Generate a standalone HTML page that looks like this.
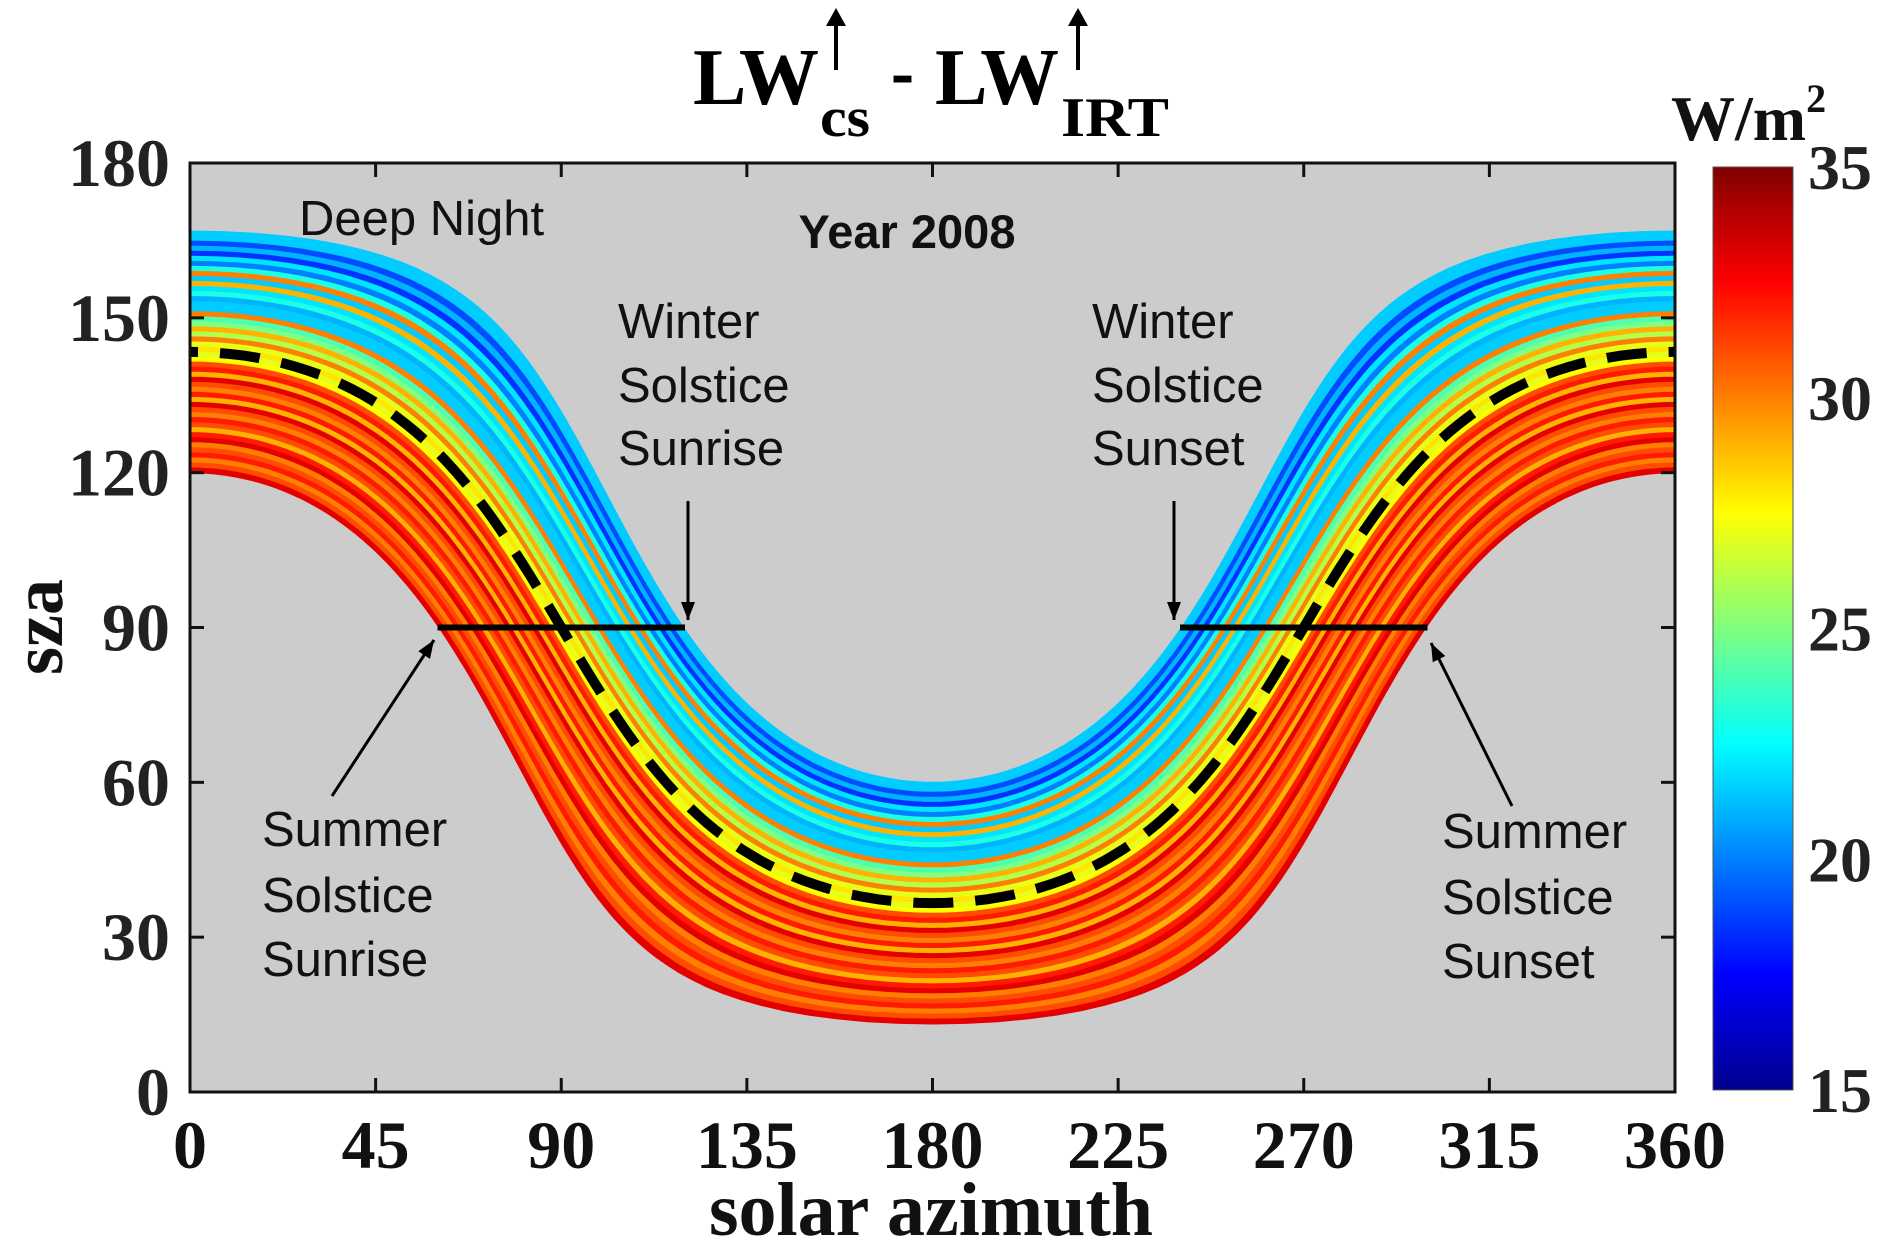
<!DOCTYPE html>
<html><head><meta charset="utf-8">
<style>
html,body{margin:0;padding:0;background:#fff;}
#wrap{position:relative;width:1892px;height:1259px;overflow:hidden;}
svg{position:absolute;left:0;top:0;}
</style></head>
<body>
<div id="wrap">
<svg id="chart" width="1892" height="1259" viewBox="0 0 1892 1259" xmlns="http://www.w3.org/2000/svg">
  <defs>
    <linearGradient id="jet" x1="0" y1="1" x2="0" y2="0">
      <stop offset="0" stop-color="#00008f"/>
      <stop offset="0.125" stop-color="#0000ff"/>
      <stop offset="0.375" stop-color="#00ffff"/>
      <stop offset="0.625" stop-color="#ffff00"/>
      <stop offset="0.875" stop-color="#ff0000"/>
      <stop offset="1" stop-color="#800000"/>
    </linearGradient>
    <clipPath id="pclip"><rect x="190" y="163" width="1485" height="929"/></clipPath>
  </defs>
  <rect x="190" y="163" width="1485" height="929" fill="#cccccc"/>
  <g id="field" clip-path="url(#pclip)"></g>
  <g id="ticks"></g>
  <rect x="190" y="163" width="1485" height="929" fill="none" stroke="#111" stroke-width="3"/>

  <!-- title -->
  <g font-family="Liberation Serif, serif" font-weight="bold" fill="#000">
    <text x="693" y="104" font-size="80" textLength="126" lengthAdjust="spacingAndGlyphs">LW</text>
    <text x="820" y="136" font-size="56" textLength="50" lengthAdjust="spacingAndGlyphs">cs</text>
    <text x="891" y="98" font-size="80" textLength="23" lengthAdjust="spacingAndGlyphs">-</text>
    <text x="935" y="104" font-size="80" textLength="124" lengthAdjust="spacingAndGlyphs">LW</text>
    <text x="1061" y="136" font-size="56" textLength="108" lengthAdjust="spacingAndGlyphs">IRT</text>
  </g>
  <g stroke="#000" fill="#000">
    <line x1="836" y1="20" x2="836" y2="70" stroke-width="4"/>
    <polygon points="836,8 826,26 846,26" stroke="none"/>
    <line x1="1078" y1="20" x2="1078" y2="70" stroke-width="4"/>
    <polygon points="1078,8 1068,26 1088,26" stroke="none"/>
  </g>

  <text x="907" y="248" text-anchor="middle" font-family="Liberation Sans, sans-serif" font-weight="bold" font-size="47" fill="#111">Year 2008</text>

  <g font-family="Liberation Sans, sans-serif" font-size="49" fill="#111">
    <text x="299" y="235">Deep Night</text>
    <text x="618" y="338"><tspan x="618">Winter</tspan><tspan x="618" dy="64">Solstice</tspan><tspan x="618" dy="63">Sunrise</tspan></text>
    <text x="1092" y="338"><tspan x="1092">Winter</tspan><tspan x="1092" dy="64">Solstice</tspan><tspan x="1092" dy="63">Sunset</tspan></text>
    <text x="262" y="846"><tspan x="262">Summer</tspan><tspan x="262" dy="66">Solstice</tspan><tspan x="262" dy="64">Sunrise</tspan></text>
    <text x="1442" y="848"><tspan x="1442">Summer</tspan><tspan x="1442" dy="66">Solstice</tspan><tspan x="1442" dy="64">Sunset</tspan></text>
  </g>
  <g id="arrows" stroke="#000" fill="#000"></g>

  <!-- axis labels -->
  <g id="ylabels" font-family="Liberation Serif, serif" font-weight="bold" font-size="68" fill="#222" text-anchor="end"></g>
  <g id="xlabels" font-family="Liberation Serif, serif" font-weight="bold" font-size="68" fill="#111" text-anchor="middle"></g>
  <text x="931" y="1235" text-anchor="middle" font-family="Liberation Serif, serif" font-weight="bold" font-size="76" fill="#111">solar azimuth</text>
  <text transform="translate(62,627) rotate(-90)" text-anchor="middle" font-family="Liberation Serif, serif" font-weight="bold" font-size="72" fill="#111">sza</text>

  <!-- colorbar -->
  <rect x="1713" y="167" width="80" height="923" fill="url(#jet)" stroke="#555" stroke-width="1"/>
  <g id="cblabels" font-family="Liberation Serif, serif" font-weight="bold" font-size="64" fill="#222"></g>
  <text x="1671" y="140" font-family="Liberation Serif, serif" font-weight="bold" font-size="64" fill="#111">W/m<tspan font-size="40" dy="-28">2</tspan></text>
</svg>
</div>
<script>
// ---- data ----
const latitude = 36.6;
const declinationMin = -23.44, declinationMax = 23.44;
// per-declination-band LW difference (W/m2), from winter solstice (top) to summer solstice (bottom)
const bandValues = [21.5,21.5,19,21,18.5,22,20,23,30,21.5,29,22,23,21,21.5,21.5,30,24,25,29,26,30,27,28,
                    27,27.5,31,32,29,33,31,30,32,29,33,31,30,32,31,29,32,33,30,31,32,30,31,33];
const xTicks = [0,45,90,135,180,225,270,315,360];
const yTicks = [0,30,60,90,120,150,180];
const cbTicks = [15,20,25,30,35];
const cbMin = 15, cbMax = 35;
const annotHlines = [[60,120,90],[240,300,90]];

// ---- axes ----
const X0=190, X1=1675, Y0=1092, Y1=163;
const xs = a => X0 + (a/360)*(X1-X0);
const ys = z => Y0 - (z/180)*(Y0-Y1);
const cbY = v => 1090 - (v-cbMin)/(cbMax-cbMin)*(1090-167);
const NS='http://www.w3.org/2000/svg';
function mk(tag, attrs, parent){const e=document.createElementNS(NS,tag);for(const k in attrs)e.setAttribute(k,attrs[k]);parent.appendChild(e);return e;}

function jet(v){
  let t=(v-cbMin)/(cbMax-cbMin); t=Math.max(0,Math.min(1,t));
  const f=x=>Math.max(0,Math.min(1,x));
  const r=f(1.5-Math.abs(4*t-3)), g=f(1.5-Math.abs(4*t-2)), b=f(1.5-Math.abs(4*t-1));
  return `rgb(${Math.round(r*255)},${Math.round(g*255)},${Math.round(b*255)})`;
}
const D=Math.PI/180;
function sunPath(dec){
  const pts=[]; const phi=latitude*D, d=dec*D;
  for(let h=-180;h<=180;h+=2){
    const H=h*D;
    const cz=Math.sin(phi)*Math.sin(d)+Math.cos(phi)*Math.cos(d)*Math.cos(H);
    const z=Math.acos(Math.max(-1,Math.min(1,cz)))/D;
    let az=Math.atan2(Math.sin(H),Math.cos(H)*Math.sin(phi)-Math.tan(d)*Math.cos(phi))/D+180;
    if(h===-180) az=0; if(h===180) az=360;
    pts.push([az,z]);
  }
  return pts;
}
const field=document.getElementById('field');
const n=bandValues.length;
for(let i=0;i<n;i++){
  const d1=declinationMin+(declinationMax-declinationMin)*i/n;
  const d2=declinationMin+(declinationMax-declinationMin)*(i+1)/n;
  const p1=sunPath(d1), p2=sunPath(d2).reverse();
  const all=p1.concat(p2).map(p=>xs(p[0]).toFixed(1)+','+ys(p[1]).toFixed(1)).join(' ');
  const poly=mk('polygon',{points:all,fill:jet(bandValues[i]),stroke:jet(bandValues[i]),'stroke-width':'0.8'},field);
  
  
}
// equinox dashed line
const eq=sunPath(0).map(p=>xs(p[0]).toFixed(1)+','+ys(p[1]).toFixed(1)).join(' ');
const eqLine=mk('polyline',{points:eq,fill:'none',stroke:'#000','stroke-width':'10','stroke-dasharray':'40 22','stroke-dashoffset':'-30'},field);



// ticks
const tg=document.getElementById('ticks');
xTicks.forEach(a=>{
  mk('line',{x1:xs(a),y1:Y0,x2:xs(a),y2:Y0-14,stroke:'#111','stroke-width':3},tg);
  mk('line',{x1:xs(a),y1:Y1,x2:xs(a),y2:Y1+14,stroke:'#111','stroke-width':3},tg);
  const t=mk('text',{x:xs(a),y:1168},document.getElementById('xlabels'));
  t.textContent=a;
  
  
});
yTicks.forEach(z=>{
  mk('line',{x1:X0,y1:ys(z),x2:X0+14,y2:ys(z),stroke:'#111','stroke-width':3},tg);
  mk('line',{x1:X1,y1:ys(z),x2:X1-14,y2:ys(z),stroke:'#111','stroke-width':3},tg);
  const t=mk('text',{x:170,y:ys(z)+23},document.getElementById('ylabels'));
  t.textContent=z;
  
  
});
cbTicks.forEach(v=>{
  const t=mk('text',{x:1808,y:cbY(v)+22},document.getElementById('cblabels'));
  t.textContent=v;
  
  
});

// annotation lines & arrows
const ag=document.getElementById('arrows');
annotHlines.forEach(h=>{
  const l=mk('line',{x1:xs(h[0]),y1:ys(h[2]),x2:xs(h[1]),y2:ys(h[2]),'stroke-width':6},ag);
  
  
});
function arrow(x1,y1,x2,y2){
  mk('line',{x1,y1,x2,y2,'stroke-width':3},ag);
  const a=Math.atan2(y2-y1,x2-x1), L=18, W=7;
  const bx=x2-L*Math.cos(a), by=y2-L*Math.sin(a);
  const p=`${x2},${y2} ${bx+W*Math.sin(a)},${by-W*Math.cos(a)} ${bx-W*Math.sin(a)},${by+W*Math.cos(a)}`;
  const h=mk('polygon',{points:p,stroke:'none'},ag);
  
  
}
arrow(688,501,688,620);
arrow(1174,501,1174,620);
arrow(332,796,434,640);
arrow(1512,806,1431,643);
</script>
</body></html>
